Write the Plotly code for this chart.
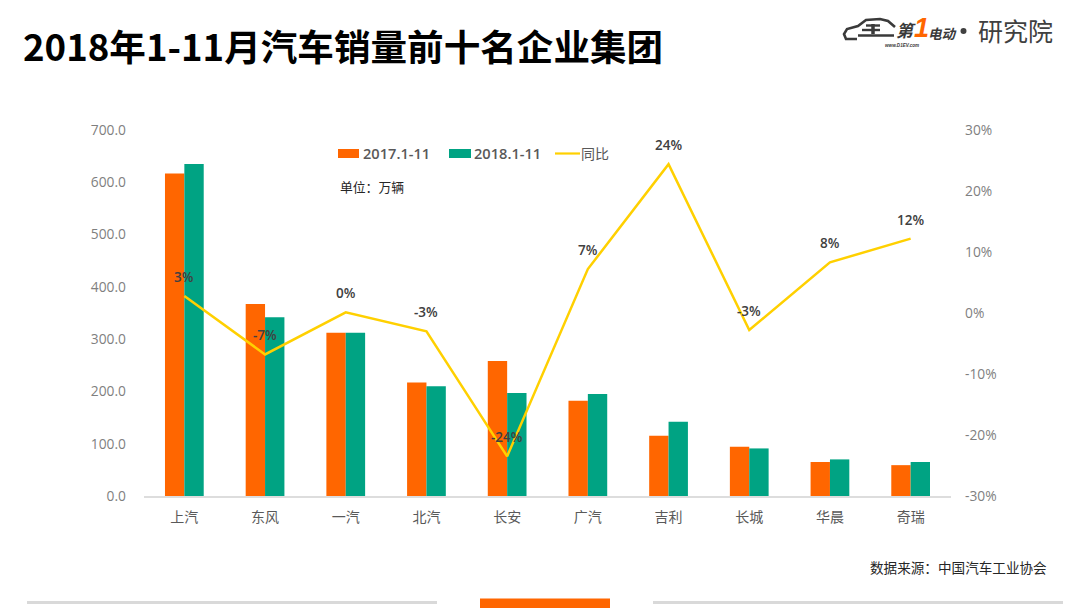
import plotly.graph_objects as go

categories = ["上汽", "东风", "一汽", "北汽", "长安", "广汽", "吉利", "长城", "华晨", "奇瑞"]
sales_2017 = [617, 367, 312, 217, 258, 182, 115, 94, 65, 59]
sales_2018 = [635, 342, 312, 210, 197, 195, 142, 91, 70, 65]
yoy = [2.8, -6.8, 0.1, -3.0, -23.5, 7.2, 24.4, -2.8, 8.3, 12.2]
yoy_labels = ["3%", "-7%", "0%", "-3%", "-24%", "7%", "24%", "-3%", "8%", "12%"]
left_ticks = [0, 100, 200, 300, 400, 500, 600, 700]
right_ticks = [-30, -20, -10, 0, 10, 20, 30]

W, H = 1080, 608
L, R, T, B = 144, 951, 130, 496
FONT = "Open Sans, Noto Sans CJK SC, sans-serif"
CJK = "Noto Sans CJK SC, sans-serif"
ORANGE, GREEN, YELLOW = "#FF6600", "#00A383", "#FFD000"
LOGO = "#3A3A3A"


def px(x):
    return (x - L) / (R - L)


def py(y):
    return (B - y) / (B - T)


def path(points):
    return "M" + " L".join(f"{px(x):.5f},{py(y):.5f}" for x, y in points)


def rect(x0, y0, x1, y1, color):
    return dict(type="rect", xref="paper", yref="paper", x0=px(x0), x1=px(x1),
                y0=py(y1), y1=py(y0), fillcolor=color, line_width=0)


def stroke(points, color=LOGO, width=2.2):
    return dict(type="path", xref="paper", yref="paper", path=path(points),
                line=dict(color=color, width=width))


def note(text, x, y, size, color="#262626", xanchor="left", family=CJK, weight=None):
    font = dict(size=size, color=color, family=family)
    if weight:
        font["weight"] = weight
    return dict(text=text, xref="paper", yref="paper", x=px(x), y=py(y), showarrow=False,
                xanchor=xanchor, yanchor="middle", font=font, align="left", borderpad=0)


fig = go.Figure()
fig.add_bar(x=categories, y=sales_2017, name="2017.1-11", marker_color=ORANGE, marker_line_width=0)
fig.add_bar(x=categories, y=sales_2018, name="2018.1-11", marker_color=GREEN, marker_line_width=0)
fig.add_scatter(x=categories, y=yoy, name="同比", mode="lines", yaxis="y2",
                line=dict(color=YELLOW, width=2.5))

annotations = [
    dict(x=c, y=v, yref="y2", xref="x", text=t, showarrow=False, yshift=19,
         font=dict(size=13.5, color="#404040", family=FONT, weight=600),
         xanchor="center", yanchor="middle")
    for c, v, t in zip(categories, yoy, yoy_labels)
]
annotations += [
    note("<b>2018年1-11月汽车销量前十名企业集团</b>", 22, 45, 36.6, "#000000"),
    note("2017.1-11", 362, 152.5, 14.6, "#595959", family=FONT, weight=600),
    note("2018.1-11", 473, 152.5, 14.6, "#595959", family=FONT, weight=600),
    note("同比", 580, 152.5, 14, "#595959"),
    note("单位：万辆", 338.5, 187, 12.8, "#262626"),
    note("数据来源：中国汽车工业协会", 869, 567, 13.6, "#262626"),
    note("<b><i>第</i></b>", 895, 30, 17, LOGO),
    note("<b><i>1</i></b>", 913, 28, 27, ORANGE, family="Liberation Sans, sans-serif"),
    note("<b><i>电动</i></b>", 927, 33, 13.5, LOGO),
    note("<b><i>www.D1EV.com</i></b>", 884, 45, 4.6, LOGO, family="Liberation Sans, sans-serif"),
    note("研究院", 977, 30, 25, "#404040"),
]

shapes = [
    rect(27, 601, 437, 604, "#D9D9D9"),
    rect(653, 601, 1063, 604, "#D9D9D9"),
    rect(480, 598.5, 610, 608, ORANGE),
    rect(338, 149, 359, 158, ORANGE),
    rect(449, 149, 471, 158, GREEN),
    stroke([(555, 153.5), (580, 153.5)], YELLOW, 2.2),
    stroke([(857, 39), (846, 39), (844, 34), (847, 29), (858, 26), (866, 20), (880, 19), (888, 21), (895, 27)], width=2.6),
    stroke([(858, 35.5), (894, 35.5)], width=2.6),
    stroke([(866, 25.5), (880, 25.5)], width=2.4),
    stroke([(862, 30), (880, 30)], width=2.4),
    stroke([(873, 24), (873, 34)], width=3.5),
    dict(type="circle", xref="paper", yref="paper", x0=px(960.5), x1=px(966.5), y0=py(34), y1=py(28),
         fillcolor="#404040", line_width=0),
]

fig.update_layout(
    width=W, height=H, autosize=False,
    margin=dict(l=L, r=W - R, t=T, b=H - B, pad=0),
    paper_bgcolor="white", plot_bgcolor="white",
    barmode="group", bargap=0.52, bargroupgap=0,
    showlegend=False,
    font=dict(family=FONT, color="#595959", size=14),
    xaxis=dict(showgrid=False, showline=True, linecolor="#DDDDDD", linewidth=1.5, ticks="",
               ticklabelstandoff=7, tickfont=dict(size=14, color="#595959", family=CJK), fixedrange=True),
    yaxis=dict(range=[0, 700], tickvals=left_ticks, ticktext=[f"{v:.1f}" for v in left_ticks],
               showgrid=False, zeroline=False, showline=False, ticks="", ticklabelstandoff=17,
               tickfont=dict(size=13.8, color="#7F7F7F")),
    yaxis2=dict(range=[-30, 30], tickvals=right_ticks, ticktext=[f"{v}%" for v in right_ticks],
                overlaying="y", side="right", showgrid=False, zeroline=False, showline=False, ticks="",
                ticklabelstandoff=13, tickfont=dict(size=13.8, color="#7F7F7F")),
    annotations=annotations, shapes=shapes,
)

fig.write_html("out.html", post_script="document.body.style.margin='0';document.body.style.overflow='hidden';",
               config=dict(displayModeBar=False))
